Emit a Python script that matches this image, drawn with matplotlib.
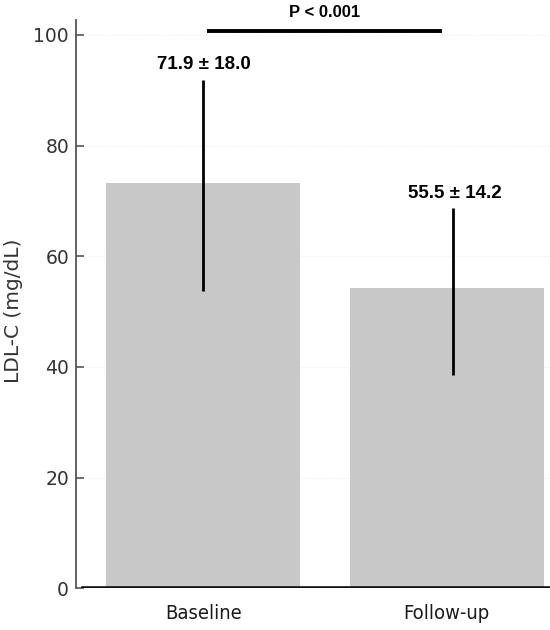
import numpy as np
import matplotlib.pyplot as plt

groups = ['Baseline', 'Follow-up']
means = [73.3, 54.2]
err_low = [19.5, 15.6]
err_high = [18.6, 14.5]
value_labels = ['71.9 \u00b1 18.0', '55.5 \u00b1 14.2']
p_label = 'P < 0.001'
yticks = [0, 20, 40, 60, 80, 100]


def draw():
    fig = plt.figure(figsize=(5.5, 6.3), dpi=100)
    ax = fig.add_axes([0.1382, 0.0662, 0.8618, 0.902])

    x = np.arange(len(groups))
    # error bars in the original sit slightly off-centre on the second bar
    ex = x + np.array([-0.002, 0.025])

    ax.bar(x, means, width=0.797, color='#c8c8c8', zorder=2)
    ax.errorbar(ex, means, yerr=[err_low, err_high], fmt='none',
                ecolor='black', elinewidth=2, capsize=0, zorder=3)

    for xi, m, hi, lab in zip(ex, means, err_high, value_labels):
        ax.text(xi + 0.006, m + hi + 1.9, lab, ha='center', va='baseline',
                fontsize=13.5, fontweight='bold', family='Liberation Sans')

    # significance bar
    ax.plot([x[0] + 0.015, x[1] - 0.021], [100.7, 100.7], color='black',
            lw=2.8, solid_capstyle='butt', clip_on=False, zorder=4)
    ax.text((x[0] + x[1]) / 2 - 0.004, 103.3, p_label, ha='center', va='baseline',
            fontsize=12, fontweight='bold', family='Liberation Sans')

    ax.set_xlim(-0.523, 1.424)
    ax.set_ylim(0, 102.7)
    ax.set_yticks(yticks)
    ax.set_xticks(x)
    ax.set_xticklabels(groups, fontsize=14.5, color='#1a1a1a', fontstretch='condensed')

    ax.tick_params(axis='y', direction='in', length=6, width=1.2, color='#555555',
                   labelsize=13.5, labelcolor='#333333', pad=5)
    ax.tick_params(axis='x', length=0, pad=11)
    ax.set_ylabel('LDL-C (mg/dL)', fontsize=14.5, color='#333333')
    ax.yaxis.set_label_coords(-0.112, 0.489)

    for s in ['top', 'right', 'bottom']:
        ax.spines[s].set_visible(False)
    ax.spines['left'].set_color('#555555')
    ax.spines['left'].set_linewidth(1.3)
    ax.axhline(0, xmin=0.015, color='#111111', lw=2.6, zorder=4)

    ax.grid(axis='y', color='#eeeeee', linestyle=':', linewidth=0.8, zorder=0)

    fig.savefig('out.png', dpi=100)


if __name__ == '__main__':
    draw()
